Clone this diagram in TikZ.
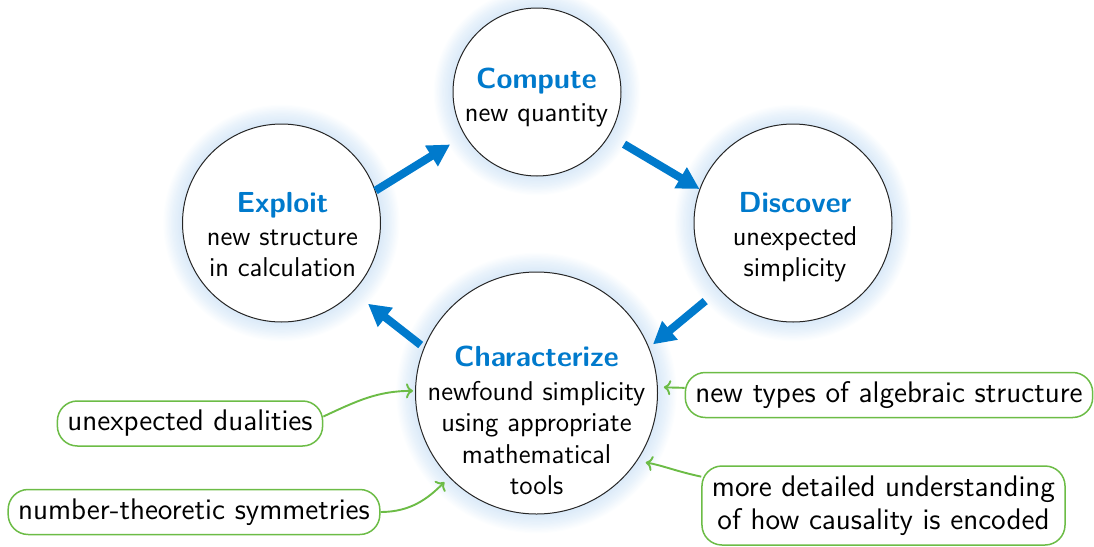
\documentclass[tikz,border=0pt]{standalone}
\usetikzlibrary{arrows.meta,backgrounds,calc}
\definecolor{myblue}{RGB}{0,122,204}
\definecolor{glowc}{RGB}{90,160,225}
\definecolor{mygreen}{RGB}{108,188,70}
\begin{document}
\begin{tikzpicture}[x=0.5pt,y=-0.5pt,
  every node/.style={font=\sffamily\fontsize{13.6}{15.75}\selectfont},
  bigcirc/.style={circle,draw=black!85,line width=0.5pt,fill=white,inner sep=0pt},
  txt/.style={align=center,inner sep=0pt},
  flow/.style={line width=4pt,draw=myblue,-{Triangle[length=11pt,width=11.5pt]}},
  gbox/.style={draw=mygreen,line width=0.75pt,rounded corners=10pt,align=center,minimum height=22.5pt,inner xsep=5pt,fill=white,font=\sffamily\fontsize{14.9}{16.8}\selectfont},
  garr/.style={draw=mygreen,line width=0.95pt,-{To[length=3.5pt,width=7.5pt]}}
]
\useasboundingbox (0,0) rectangle (1094,547);

% circles
\node[bigcirc,minimum size=84pt] (compute) at (537,92) {};
\node[bigcirc,minimum size=99pt] (exploit) at (281.5,223) {};
\node[bigcirc,minimum size=99pt] (discover) at (793,223) {};
\node[bigcirc,minimum size=121pt] (char) at (536.5,393) {};

\begin{pgfonlayer}{background}
\foreach \n/\r in {compute/42,exploit/49.5,discover/49.5,char/60.5}{
  \foreach \i in {1,...,16}{
    \fill[glowc,opacity=0.016] (\n.center) circle[radius=\r pt+\i*0.6pt];
  }
}
\end{pgfonlayer}

% texts
\newcommand{\ttlfmt}[1]{{\fontsize{14.5}{15.75}\selectfont\bfseries\color{myblue}#1}}
\node[txt] (computeT) at (536.5,97.5) {\ttlfmt{Compute}\\[0.5pt]new quantity};
\node[txt] (exploitT) at (282.5,235) {\ttlfmt{Exploit}\\[0.5pt]new structure\\in calculation};
\node[txt] (discoverT) at (795,237.5) {\ttlfmt{Discover}\\[0.5pt]unexpected\\simplicity};
\node[txt] (charT) at (536.5,420.5) {\ttlfmt{Characterize}\\[1pt]newfound simplicity\\using appropriate\\mathematical\\tools};

% blue cycle arrows
\draw[flow,shorten >=8.5pt] (exploit.19) -- (compute.211);
\draw[flow,shorten <=8.5pt] (compute.-31.6) -- (discover.160);
\draw[flow,shorten <=9pt,shorten >=2.5pt] (discover.222.6) -- (char.22.4);
\draw[flow,shorten <=2pt,shorten >=9.5pt] (char.158.5) -- (exploit.-44);

% green boxes
\node[gbox] (dual) at (190,423.5) {unexpected dualities};
\node[gbox] (sym) at (194,512) {number-theoretic symmetries};
\node[gbox] (alg) at (889,395) {new types of algebraic structure};
\node[gbox,minimum height=39.5pt] (caus) at (883.5,505.5) {more detailed understanding\\of how causality is encoded};

% green arrows
\draw[garr,shorten >=1pt] (dual.3) to[out=25,in=180] (char.179);
\draw[garr,shorten >=3.3pt] (sym.east) to[out=0,in=225] (char.224);
\draw[garr,shorten >=3pt] (alg.178) to[out=178,in=-5] (char.3.6);
\draw[garr,shorten >=4.3pt] (caus.171) to[out=168,in=-10] (char.-34.8);
\end{tikzpicture}
\end{document}
